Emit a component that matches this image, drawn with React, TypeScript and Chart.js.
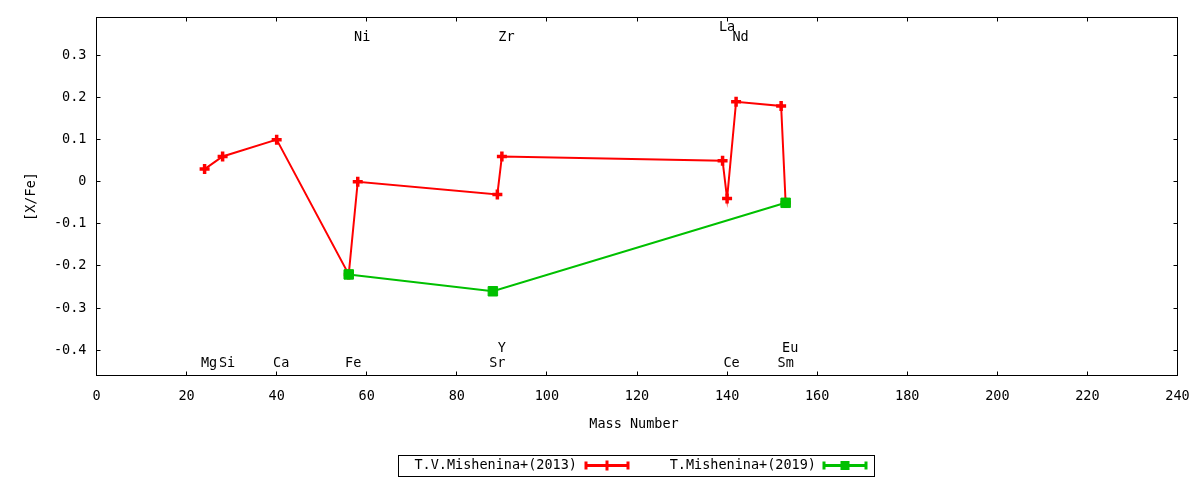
import { useEffect, useRef } from "react";
import { Chart, registerables } from "chart.js";
import type { Plugin } from "chart.js";

Chart.register(...registerables);

const FONT = "DejaVu Sans Mono";
const RED = "#ff0000";
const GREEN = "#00c000";

// [X/Fe] vs. mass number
const seriesNames = ["T.V.Mishenina+(2013)", "T.Mishenina+(2019)"];
const redMass = [24, 28, 40, 56, 58, 89, 90, 139, 140, 142, 152, 153];
const redXFe = [0.03, 0.06, 0.1, -0.22, 0.0, -0.03, 0.06, 0.05, -0.04, 0.19, 0.18, -0.05];
const greenMass = [56, 88, 153];
const greenXFe = [-0.22, -0.26, -0.05];

// element names written in the plot
const topLabels = ["Ni", "Zr", "La", "Nd"];
const topLabelMass = [58, 90, 139, 142];
const topLabelY = [0.342, 0.342, 0.366, 0.342];
const bottomLabels = ["Mg", "Si", "Ca", "Fe", "Sr", "Y", "Ce", "Sm", "Eu"];
const bottomLabelMass = [24, 28, 40, 56, 88, 89, 140, 152, 153];
const bottomLabelY = [-0.432, -0.432, -0.432, -0.432, -0.432, -0.397, -0.432, -0.432, -0.397];

const xTicks = [0, 20, 40, 60, 80, 100, 120, 140, 160, 180, 200, 220, 240];
const yTicks = [-0.4, -0.3, -0.2, -0.1, 0, 0.1, 0.2, 0.3];

const font = { family: FONT, size: 13.5 };

const gnuplotLook: Plugin<"line"> = {
  id: "gnuplotLook",
  afterDraw(chart) {
    const { ctx, chartArea } = chart;
    const { left, right, top, bottom } = chartArea;
    const xs = chart.scales.x;
    const ys = chart.scales.y;
    const tick = 4;

    ctx.save();
    ctx.strokeStyle = "#000";
    ctx.lineWidth = 1;
    ctx.strokeRect(left, top, right - left, bottom - top);

    ctx.beginPath();
    xTicks.forEach((v) => {
      const px = Math.floor(xs.getPixelForValue(v)) + 0.5;
      ctx.moveTo(px, bottom);
      ctx.lineTo(px, bottom - tick);
      ctx.moveTo(px, top);
      ctx.lineTo(px, top + tick);
    });
    yTicks.forEach((v) => {
      const py = Math.floor(ys.getPixelForValue(v)) + 0.5;
      ctx.moveTo(left, py);
      ctx.lineTo(left + tick, py);
      ctx.moveTo(right, py);
      ctx.lineTo(right - tick, py);
    });
    ctx.stroke();

    // element names
    ctx.fillStyle = "#000";
    ctx.font = `${font.size}px "${FONT}"`;
    ctx.textAlign = "center";
    ctx.textBaseline = "middle";
    const nudge = 1;
    topLabels.forEach((t, i) => {
      ctx.fillText(t, xs.getPixelForValue(topLabelMass[i] + nudge), ys.getPixelForValue(topLabelY[i]));
    });
    bottomLabels.forEach((t, i) => {
      ctx.fillText(t, xs.getPixelForValue(bottomLabelMass[i] + nudge), ys.getPixelForValue(bottomLabelY[i]));
    });

    // axis titles
    ctx.fillText("Mass Number", (left + right) / 2 - 3, 424);
    ctx.save();
    ctx.translate(31, (top + bottom) / 2);
    ctx.rotate(-Math.PI / 2);
    ctx.fillText("[X/Fe]", 0, 0);
    ctx.restore();

    // legend box
    ctx.strokeRect(398.5, 455.5, 476, 21);
    const ly = 465.5;
    const entries = [
      { name: seriesNames[0], color: RED, textEnd: 577, x0: 586, x1: 628, square: false },
      { name: seriesNames[1], color: GREEN, textEnd: 816, x0: 824, x1: 866, square: true },
    ];
    entries.forEach((e) => {
      ctx.fillStyle = "#000";
      ctx.textAlign = "right";
      ctx.fillText(e.name, e.textEnd, ly);
      ctx.strokeStyle = e.color;
      ctx.fillStyle = e.color;
      ctx.lineWidth = 3;
      ctx.beginPath();
      ctx.moveTo(e.x0, ly);
      ctx.lineTo(e.x1, ly);
      ctx.moveTo(e.x0, ly - 4);
      ctx.lineTo(e.x0, ly + 4);
      ctx.moveTo(e.x1, ly - 4);
      ctx.lineTo(e.x1, ly + 4);
      const cx = (e.x0 + e.x1) / 2;
      if (!e.square) {
        ctx.moveTo(cx, ly - 5);
        ctx.lineTo(cx, ly + 5);
      }
      ctx.stroke();
      if (e.square) {
        ctx.fillRect(cx - 4.5, ly - 4.5, 9, 9);
      }
    });
    ctx.restore();
  },
};

function AbundanceChart() {
  const canvasRef = useRef<HTMLCanvasElement | null>(null);
  const chartRef = useRef<Chart<"line"> | null>(null);

  useEffect(() => {
    const canvas = canvasRef.current;
    if (!canvas) {
      return;
    }

    chartRef.current?.destroy();
    chartRef.current = new Chart(canvas, {
      type: "line",
      data: {
        datasets: [
          {
            label: seriesNames[0],
            data: redMass.map((m, i) => ({ x: m, y: redXFe[i] })),
            borderColor: RED,
            backgroundColor: RED,
            borderWidth: 2,
            pointStyle: "cross",
            pointRadius: 5,
            pointBorderWidth: 3.5,
            pointBorderColor: RED,
            tension: 0,
            order: 1,
          },
          {
            label: seriesNames[1],
            data: greenMass.map((m, i) => ({ x: m, y: greenXFe[i] })),
            borderColor: GREEN,
            backgroundColor: GREEN,
            borderWidth: 2,
            pointStyle: "rect",
            pointRadius: 6.7,
            pointBorderWidth: 1,
            pointBorderColor: GREEN,
            tension: 0,
            order: 0,
          },
        ],
      },
      options: {
        responsive: true,
        maintainAspectRatio: false,
        animation: false,
        layout: { padding: { left: 0, top: 17.5, right: 22.5, bottom: 0 } },
        plugins: {
          legend: { display: false },
          tooltip: { enabled: false },
        },
        scales: {
          x: {
            type: "linear",
            min: 0,
            max: 240,
            grid: { display: false, drawTicks: false },
            border: { display: false },
            ticks: {
              font,
              color: "#000",
              padding: 13,
              maxRotation: 0,
              autoSkip: false,
              callback: (v) => String(v),
            },
            afterBuildTicks: (s) => {
              s.ticks = xTicks.map((value) => ({ value }));
            },
            afterFit: (s) => {
              s.height = 104.5;
              s.paddingLeft = 0;
              s.paddingRight = 0;
            },
          },
          y: {
            type: "linear",
            min: -0.46,
            max: 0.39,
            grid: { display: false, drawTicks: false },
            border: { display: false },
            ticks: {
              font,
              color: "#000",
              padding: 10,
              autoSkip: false,
              callback: (v) => (Number(v) === 0 ? "0" : Number(v).toFixed(1)),
            },
            afterBuildTicks: (s) => {
              s.ticks = yTicks.map((value) => ({ value }));
            },
            afterFit: (s) => {
              s.width = 96.5;
              s.paddingTop = 0;
              s.paddingBottom = 0;
            },
          },
        },
      },
      plugins: [gnuplotLook],
    });

    return () => {
      chartRef.current?.destroy();
      chartRef.current = null;
    };
  }, []);

  return <canvas ref={canvasRef} />;
}

export default function App() {
  return (
    <div style={{ position: "fixed", left: 0, top: 0, width: 1200, height: 480, background: "#fff" }}>
      <AbundanceChart />
    </div>
  );
}
